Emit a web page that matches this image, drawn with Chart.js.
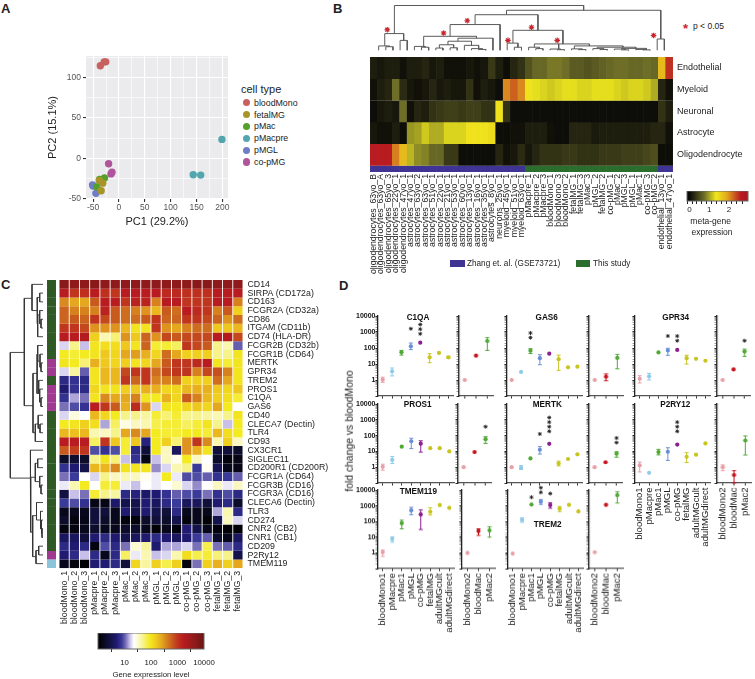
<!DOCTYPE html>
<html>
<head>
<meta charset="utf-8">
<script src="https://cdn.jsdelivr.net/npm/chart.js@4"></script>
<style>
  html, body { margin: 0; padding: 0; background: #fff; }
  #page { position: relative; width: 755px; height: 679px; overflow: hidden; font-family: "Liberation Sans", sans-serif; color: #222; }
  #page canvas { position: absolute; }
  .t { position: absolute; white-space: nowrap; line-height: 1; }
</style>
</head>
<body>
<div id="page"></div>
<script>
// ---- panel A
const cellTypes = ['bloodMono', 'fetalMG', 'pMac', 'pMacpre', 'pMGL', 'co-pMG']
const cellColors = ['#c8605f', '#a8952a', '#53a02c', '#53a6ae', '#6f7cc6', '#b0559c']
const pc1Values = [[-36, -28.5, -25.5], [-34.4, -31.3, -38], [-37.5, -28, -43], [143.5, 158, 199], [-44.6, -51, -50], [-20, -13.5, -15.5]]
const pc2Values = [[114.6, 119.4, 119.4], [-39.9, -30.4, -27], [-26, -24, -35], [-20, -20.5, 23.6], [-43, -32.5, -34], [-6.5, -17, -19]]
const pc1Ticks = [-50, -25, 0, 25, 50, 75, 100, 125, 150, 175, 200]
const pc2Ticks = [-50, -25, 0, 25, 50, 75, 100, 125]

// ---- panel B
const bColumns = ['oligodendrocytes_63yo_B', 'oligodendrocytes_63yo_A', 'oligodendrocytes_65yo_3', 'oligodendrocytes_22yo_1', 'oligodendrocytes_47yo_1',
  'astrocytes_47yo_1', 'astrocytes_63yo_2', 'astrocytes_63yo_1', 'astrocytes_51yo_1', 'astrocytes_22yo_1', 'astrocytes_21yo_1', 'astrocytes_53yo_1',
  'astrocytes_60yo_1', 'astrocytes_13yo_1', 'astrocytes_16yo_1', 'astrocytes_35yo_1', 'astrocytes_8yo_1', 'neurons_25yo_1', 'myeloid_45yo_1',
  'myeloid_51yo_1', 'myeloid_63yo_1', 'pMacpre_1', 'pMacpre_2', 'pMacpre_3', 'bloodMono_1', 'bloodMono_3', 'bloodMono_2', 'fetalMG_1', 'fetalMG_3',
  'pMac_3', 'pMGL_2', 'fetalMG_2', 'co-pMG_1', 'pMac_2', 'pMGL_3', 'pMGL_1', 'pMac_1', 'co-pMG_3', 'co-pMG_2', 'endothelial_13yo_1', 'endothelial_47yo_1']
const bRows = ['Endothelial', 'Myeloid', 'Neuronal', 'Astrocyte', 'Oligodendrocyte']
const bEndothelial = [.15, .1, .15, .15, .05, .15, .15, .2, .1, .15, .05, .05, .05, .1, .05, .1, .35, .15, .03, .2, .3, .55, .7, .7, .8, .8, .75, .6, .6, .55, .6, .65, .7, .75, .75, .7, .7, .75, .7, 1.75, 2.5]
const bMyeloid = [.05, .15, .2, .75, .25, .1, .05, .1, .2, .1, .15, .1, .1, .3, .05, .15, .1, .02, 2.05, 2.25, 2.05, 1.4, 1.3, 1.25, 1.2, 1.25, 1.3, 1.3, 1.25, 1.25, 1.3, 1.3, 1.3, 1.25, 1.2, 1.25, 1.25, 1.2, 1.05, .2, .05]
const bNeuronal = [.02, .1, .15, .1, .75, .05, .2, .15, .3, .35, .4, .4, .35, .4, .4, .3, .3, 1.4, .3, .02, .02, .02, .02, .02, .02, .02, .02, .02, .02, .02, .02, .02, .02, .02, .02, .02, .02, .02, .02, .3, .15]
const bAstrocyte = [.1, .05, .05, .15, .03, .95, 1, 1.2, 1.05, 1.05, 1.25, 1.25, 1.25, 1.4, 1.4, 1.4, 1.45, .02, .03, .05, .05, .15, .15, .15, .05, .02, .02, .2, .2, .2, .12, .15, .15, .15, .15, .15, .15, .15, .2, .2, .05]
const bOligo = [2.6, 2.6, 2.6, 2.1, 1.75, 1.1, .9, .85, .7, .7, .35, .35, .02, .02, .02, .02, .02, .2, .05, .1, .25, .1, .2, .3, .3, .3, .35, .35, .3, .3, .3, .35, .35, .35, .4, .4, .4, .45, .5, .03, .03]
const bStudy = ['Z', 'Z', 'Z', 'Z', 'Z', 'Z', 'Z', 'Z', 'Z', 'Z', 'Z', 'Z', 'Z', 'Z', 'Z', 'Z', 'Z', 'Z', 'Z', 'Z', 'Z', 'T', 'T', 'T', 'T', 'T', 'T', 'T', 'T', 'T', 'T', 'T', 'T', 'T', 'T', 'T', 'T', 'T', 'T', 'Z', 'Z']
// dendrogram merges: left leaf pos, right leaf pos, merge height, left child height, right child height
const bMerges = [
  [2.7, 29.2, 56.5, 22.3, 50.7], [1.35, 4, 22.3, 7.3, 14], [.5, 2, 7.3, 2, 6.3], [1.5, 2.5, 6.3, 2, 2], [3.5, 4.5, 14, 2, 2],
  [18.4, 40, 50.7, 45.3, 15.7], [39.5, 40.5, 15.7, 2, 2], [14, 22.8, 45.3, 33.3, 26.3], [10.5, 17.5, 33.3, 19, 2], [6.8, 14.2, 19, 6.7, 16.7],
  [5.5, 7, 6.7, 2, 5.7], [6.5, 7.5, 5.7, 2, 2], [11.6, 16.5, 16.7, 13, 2], [10.2, 13.5, 13, 8.7, 8], [9, 11, 8.7, 4.7, 5], [8.5, 9.5, 4.7, 2, 2], [10.5, 11.5, 5, 2, 2],
  [12.5, 14.5, 8, 2, 4], [13.5, 15, 4, 2, 3], [14.5, 15.5, 3, 2, 2],
  [19.3, 26.3, 26.3, 10.7, 9.7], [18.5, 20, 10.7, 2, 5.7], [19.5, 20.5, 5.7, 2, 2],
  [22.3, 25.7, 9.7, 5.7, 3.5], [25.7, 30, 9.7, 3.5, 7.3], [21.5, 23, 5.7, 2, 4], [22.5, 23.5, 4, 2, 2], [24.5, 26, 3.5, 2, 2.7], [25.5, 26.5, 2.7, 2, 2],
  [27.9, 34.7, 7.3, 3.7, 5.7], [27.5, 29, 3.7, 2, 2.8], [28.5, 29.5, 2.8, 2, 2], [31.1, 36.5, 5.7, 4, 4.3], [30.5, 32, 4, 2, 3], [31.5, 32.5, 3, 2, 2],
  [34.5, 38, 4.3, 3.5, 3], [33.5, 35, 3.5, 2, 2.5], [34.5, 35.5, 2.5, 2, 2], [36.5, 38, 3, 2, 2.5], [37.5, 38.5, 2.5, 2, 2]
]
const bSigLeaf = [1.7, 12.9, 9.6, 18.6, 21.9, 25.5, 39]
const bSigHeight = [27, 38, 23, 14, 30, 14, 20]

// ---- panel C (log10 expression)
const cColumns = ['bloodMono_1', 'bloodMono_2', 'bloodMono_3', 'pMacpre_1', 'pMacpre_2', 'pMacpre_3', 'pMac_1', 'pMac_2', 'pMac_3', 'pMGL_1', 'pMGL_2', 'pMGL_3', 'co-pMG_1', 'co-pMG_2', 'co-pMG_3', 'fetalMG_1', 'fetalMG_2', 'fetalMG_3']
const cGenes = ['CD14', 'SIRPA (CD172a)', 'CD163', 'FCGR2A (CD32a)', 'CD86', 'ITGAM (CD11b)', 'CD74 (HLA-DR)', 'FCGR2B (CD32b)', 'FCGR1B (CD64)', 'MERTK', 'GPR34', 'TREM2', 'PROS1', 'C1QA', 'GAS6', 'CD40', 'CLECA7 (Dectin)', 'TLR4', 'CD93', 'CX3CR1', 'SIGLEC11', 'CD200R1 (CD200R)', 'FCGR1A (CD64)', 'FCGR3B (CD16)', 'FCGR3A (CD16)', 'CLECA6 (Dectin)', 'TLR3', 'CD274', 'CNR2 (CB2)', 'CNR1 (CB1)', 'CD209', 'P2Ry12', 'TMEM119']
const cGroup = ['g', 'g', 'g', 'g', 'g', 'g', 'g', 'g', 'g', 'm', 'm', 'g', 'm', 'm', 'm', 'g', 'g', 'g', 'g', 'g', 'g', 'g', 'g', 'g', 'g', 'g', 'g', 'g', 'g', 'g', 'g', 'm', 'b']
const cLevels = [
  [3.7, 3.65, 3.65, 3.7, 3.65, 3.65, 3.65, 3.65, 3.65, 3.65, 3.65, 3.65, 3.65, 3.7, 3.7, 3.65, 3.65, 3.65],
  [3.2, 3, 3.05, 3.2, 3.05, 3, 3.2, 3.2, 3.2, 3.2, 3.1, 3.1, 3.05, 3.05, 3.05, 3.2, 3.2, 3.2],
  [2.55, 2.4, 2.4, 2.8, 3.2, 3.2, 3, 3.15, 3.15, 2.6, 3.2, 3.2, 3, 3, 3, 3.2, 3.2, 2.6],
  [2.75, 2.6, 2.6, 2.6, 3.15, 2.8, 2.7, 2.6, 2.5, 2.3, 2.8, 2.7, 3.2, 3.1, 3, 2.6, 2.8, 2.15],
  [2.75, 2.8, 2.75, 3, 2.9, 2.8, 2.7, 2.7, 2.8, 3, 2.75, 2.75, 3, 3, 2.9, 2.75, 2.5, 2.7],
  [3, 3, 2.9, 2.5, 2.5, 2.5, 2.3, 2, 2, 3, 2.5, 2.4, 2.6, 2.7, 2.7, 2.2, 2.2, 2.3],
  [3.2, 3.2, 3.25, 2.15, 1.6, 1.75, 2.5, 2.2, 2.75, 2.5, 2.9, 2.8, 2.9, 2.9, 2.9, 3.2, 3.25, 2.9],
  [1.25, 1.7, 1.2, 2, 2.05, 2.05, 2.2, 2, 2.75, 1.9, 1.9, 1.8, 3, 2.9, 2.8, 1.7, 1.6, 1],
  [1.95, 1.9, 1.95, 2, 2.2, 2.1, 2.4, 2.45, 2.35, 2.1, 2.7, 2.4, 2.15, 2.15, 2.15, 1.7, 1.7, 2],
  [2, 1.95, 1.75, 2.35, 2.2, 2.1, 2.15, 2, 2.1, 2.4, 2.8, 3, 3, 3.1, 3.2, 2, 1.9, 2],
  [1.25, 1.65, 1, 2, 2.3, 2.3, 2.9, 3, 3, 2.7, 2.9, 3, 3, 2.6, 2.9, 2.85, 2.6, 2],
  [.8, .85, .8, 2, 2.3, 2.3, 3, 2.75, 3, 2.6, 2.6, 2.7, 2.15, 2.15, 2.15, 2.7, 2.4, 2],
  [.7, .85, .8, 2.1, 2, 2, 2.15, 2.2, 2.35, 2.35, 2.1, 2.1, 2.3, 2.35, 2.35, 2.2, 2.1, 2.2],
  [.85, 1.15, 1.05, 2, 2.55, 2.4, 2.4, 2.6, 2, 1.95, 2.35, 2.1, 2.8, 2.6, 2.3, 2.15, 2.05, 1.9],
  [1.05, .95, .85, 3.2, 3, 2.8, 2.35, 3.1, 2.5, 1.25, 2, 1.95, 2.1, 2.2, 2.1, 2.4, 1.95, 1.35],
  [1.25, 1.45, 1.35, 2.3, 2.1, 1.95, 1.7, 1.7, 1.65, 1.9, 1.75, 1.9, 1.7, 1.7, 1.65, 1.6, 1.7, 2],
  [1.95, 2, 2.15, 2.05, 1.15, 1.8, 1.45, 1.55, 1.6, 1.85, 1.9, 1.9, 1.8, 1.9, 2, 1.7, 1.2, 1.95],
  [2.3, 2.25, 2.3, 1.6, 1.55, 1.7, 2.4, 2.55, 2.4, 1.95, 1.9, 1.9, 1.95, 1.95, 1.9, 2.3, 2.05, 1.95],
  [3.2, 3.2, 3.2, 1.8, 3, 2.2, 1.9, 2.2, .75, 1.95, 2.15, 1.75, 2.5, 3, 2.55, 1.6, 2.15, 1.55],
  [2.8, 2.95, 3, .95, .85, .95, 1.9, .8, .4, 1.95, 1.55, .6, 2.5, 2.35, 2, .4, .4, .3],
  [.3, .35, .3, 1.7, 2, 1.75, 1.2, .85, .15, 1.2, 1.55, 1.4, 1.95, 1.55, 1.35, .3, .1, .15],
  [.85, .7, .5, 2.3, 2.3, 2.55, 2, 2, 2, 1.1, 1.25, 1.6, 1.7, .9, 1.4, .55, .2, .15],
  [1.05, .9, 1.35, 1.25, 1.7, 1.55, 1.6, 1.55, 1.4, 1.3, 1.95, 1.3, .95, .95, 1, .85, .9, 1],
  [1.3, 1.6, 1.95, 1.35, 1.9, 1.9, 1.3, 1.2, 1.35, 1.3, 1.35, 1.5, 1.25, 1.1, 1.35, 1.55, 1.3, 1.55],
  [.45, 1.2, 1.05, 1.9, 1.7, 1.65, .8, .75, .65, .7, .85, 1, .95, .9, 1.05, .85, .95, .8],
  [.9, .95, .85, .15, .15, .65, .5, .5, .7, .6, .8, .9, .6, .6, .4, .7, .8, .3],
  [.2, .2, .2, .4, .4, .2, .7, .5, .7, .5, .4, .8, .2, .2, .2, 1.15, 1.6, .8],
  [.3, .1, .15, .4, .3, .2, .1, .1, .3, .4, .3, .5, .1, .2, .05, .5, 1.55, 1.25],
  [.1, .1, .2, .3, .2, .2, .3, .3, .2, .05, .2, .1, .7, .5, .2, .1, .05, .05],
  [.6, .6, .4, .7, .8, .7, .5, .6, .7, .8, .7, .6, .7, .9, 1, .3, .2, .6],
  [.8, .7, .8, .1, .95, .8, 1.05, 1.5, 1.65, .7, 1.15, 1.15, 1.25, 1.05, 1.85, 1.05, 1, .8],
  [.7, .8, 1.2, .8, .2, .8, 1.8, 1.3, 1.6, 1.2, 1.25, 1.6, 2.05, 1.85, 1.9, 1.75, 1.7, .5],
  [.2, .1, .02, .7, .7, .8, .4, 2.1, 1.65, 2.15, 1.85, 2.15, .1, 1.05, 2.15, 2.35, 2.15, 2.4]
]
// merges: top row pos, bottom row pos, merge depth, top child depth, bottom child depth
const cMerges = [
  [8.3, 22.7, 32.7, 18.7, 12.7], [2.1, 14.4, 18.7, 11, 10], [.5, 3.5, 11, 0, 6], [2, 5, 6, 3.3, 5.3], [1.5, 2.5, 3.3, 0, 0], [4, 6.5, 5.3, 3.3, 0], [3.5, 5, 3.3, 0, 2], [4.5, 5.5, 2, 0, 0],
  [10.7, 17.5, 10, 6, 7.7], [8.5, 13, 6, 5.3, 4.3], [7.5, 9.3, 5.3, 0, 3], [8.5, 10, 3, 0, 2], [9.5, 10.5, 2, 0, 0], [11.5, 13, 4.3, 0, 3.3], [12.5, 14, 3.3, 0, 2], [13.5, 14.5, 2, 0, 0],
  [16.5, 18.5, 7.7, 4.8, 0], [15.5, 17, 4.8, 0, 3], [16.5, 17.5, 3, 0, 0],
  [19.5, 25.7, 12.7, 0, 12.3], [22.6, 28.9, 12.3, 7.7, 10.3], [21, 23.1, 7.7, 5.3, 3.3], [20.5, 21.5, 5.3, 0, 0], [22.5, 23.75, 3.3, 0, 2], [23.5, 24.5, 2, 0, 0],
  [27, 31.7, 10.3, 6.5, 7], [25.5, 27.5, 6.5, 0, 2.5], [26.5, 28.5, 2.5, 0, 1.5], [27.5, 29, 1.5, 0, 1], [28.5, 29.5, 1, 0, 0], [31, 32.5, 7, 4.3, 0], [30.5, 31.5, 4.3, 0, 0]
]

// ---- panel D
const mainGroups = ['bloodMono1', 'pMacpre', 'pMac1', 'pMGL', 'co-pMG', 'fetalMG', 'adultMGcult', 'adultMGdirect']
const sideGroups = ['bloodMono2', 'bloodMac', 'pMac2']
const mainColors = ['#e8a0a8', '#8fcbe8', '#50a835', '#6a8fd8', '#8a1f8f', '#c8c420', '#c8c420', '#c8c420']
const sideColors = ['#e8a0a8', '#c8141e', '#50a835']
const c1qaVal = [1.05, 3.5, 54, 127, 215, 26, 49, 26, 1, 33, 273]
const c1qaLow = [.72, 1.8, 36, 79, null, 12, null, 22, null, null, 71]
const c1qaHigh = [1.5, 5.6, 71, 205, null, 44, null, 30, null, null, 440]
const c1qaStars = [[3, 1600, 1], [4, 770, 3]]
const gas6Val = [1, 3.2, 68, 23, 44, 20, 6.2, 6.8, 1, 1.6, 24]
const gas6Low = [null, null, 45, 9, null, 4, null, null, null, .9, 5]
const gas6High = [null, null, 90, 38, null, 36, null, null, null, 2.4, 40]
const gas6Stars = [[2, 444, 2]]
const gpr34Val = [1.2, 1.7, 53, 70, 76, 23, 21, 16, 1, 4.6, 60]
const gpr34Low = [.65, 1, null, 35, null, 10, null, null, null, null, 30]
const gpr34High = [1.85, 2.6, null, 96, null, 35, null, null, null, null, 85]
const gpr34Stars = [[3, 560, 1], [4, 285, 2], [10, 285, 1]]
const pros1Val = [1.05, 2.9, 20, 44, 31, 16, 16, 10, 1, 9, 59]
const pros1Low = [.65, 1.7, null, 15, 9, null, null, null, null, null, 32]
const pros1High = [1.55, 4.8, null, 68, 47, null, null, null, null, null, 85]
const pros1Stars = [[10, 365, 1]]
const mertkVal = [1, .9, 3.6, 12.7, 30, 1.7, 3.3, 6.5, 1, 2.05, 7.2]
const mertkLow = [null, .72, null, 6.8, null, 1.2, null, null, null, null, 4.3]
const mertkHigh = [null, 1.25, null, 20, null, 2.4, null, null, null, null, 9.5]
const mertkStars = [[3, 127, 1], [4, 187, 4], [10, 36, 2]]
const p2ry12Val = [1.3, .44, 9.1, 9.5, 27, 4.6, 6.2, 32, 1, .32, 49]
const p2ry12Low = [.5, null, 6, 2.7, null, 2, null, null, .6, .1, 5.9]
const p2ry12High = [2.1, null, 13.5, 17, null, 8.2, null, null, 1.4, .6, 95]
const p2ry12Stars = [[4, 187, 3]]
const tmem119Val = [1.1, 7.6, 77, 510, 280, 420, 1100, 740, 1, 24, 27]
const tmem119Low = [.6, 4.8, 34, 270, 31, 260, null, null, null, 13, 10]
const tmem119High = [1.5, 10.5, 120, 800, 540, 740, null, null, null, 34, 46]
const tmem119Stars = []
const trem2Val = [.9, 125, 1200, 1800, 1100, 650, 1150, 440, 1.1, 1150, 4700]
const trem2Low = [null, 90, null, 1230, 700, 430, null, null, null, null, 1500]
const trem2High = [null, 170, null, 2500, 1550, 900, null, null, null, null, 7700]
const trem2Stars = [[2, 3500, 1], [3, 7200, 2], [4, 6000, 1]]

const bStops = [[0, '#0a0a08'], [.75, '#6e6e28'], [1.35, '#f0e81c'], [1.9, '#e2a81e'], [2.2, '#cf6a1e'], [2.6, '#b81c20'], [2.84, '#b01820']]
const cStops = [[0, '#000000'], [.4, '#10103a'], [.7, '#201a70'], [.9, '#3a3a9a'], [1.05, '#7a70b8'], [1.2, '#c8c0e8'], [1.35, '#ffffff'], [1.65, '#f8f5a0'], [1.95, '#f4ea20'], [2.15, '#f0d01e'], [2.35, '#e8b01e'], [2.55, '#d98a1e'], [2.8, '#c85a1e'], [3, '#c0351e'], [3.2, '#b81c20'], [3.7, '#8a1a1a'], [4, '#6a1414']]

Chart.defaults.animation = false
Chart.defaults.responsive = false
Chart.defaults.devicePixelRatio = 1
Chart.defaults.font.family = '"Liberation Sans", sans-serif'
Chart.defaults.plugins.legend.display = false
Chart.defaults.plugins.tooltip.enabled = false

const page = document.getElementById('page')

function canvasAt(left, top, width, height) {
  const c = document.createElement('canvas')
  c.width = width
  c.height = height
  c.style.left = left + 'px'
  c.style.top = top + 'px'
  c.style.width = width + 'px'
  c.style.height = height + 'px'
  page.appendChild(c)
  return c.getContext('2d')
}

function text(str, x, y, size, opts = {}) {
  const d = document.createElement('div')
  d.className = 't'
  d.textContent = str
  d.style.left = x + 'px'
  d.style.top = y + 'px'
  d.style.fontSize = size + 'px'
  if (opts.bold) d.style.fontWeight = 'bold'
  if (opts.color) d.style.color = opts.color
  d.style.transform = (opts.anchor === 'middle' ? 'translate(-50%,-50%)' : 'translateY(-50%)') + (opts.rotate ? ' rotate(' + opts.rotate + 'deg)' : '')
  page.appendChild(d)
  return d
}

function swatch(x, y, w, h, color, round) {
  const d = document.createElement('div')
  d.style.cssText = `position:absolute;left:${x}px;top:${y}px;width:${w}px;height:${h}px;background:${color};` + (round ? 'border-radius:50%;' : '')
  page.appendChild(d)
}

function hexRgb(h) {
  return [1, 3, 5].map(i => parseInt(h.slice(i, i + 2), 16))
}

function ramp(stops, v) {
  if (v <= stops[0][0]) return stops[0][1]
  for (let i = 1; i < stops.length; i++) {
    if (v <= stops[i][0]) {
      const f = (v - stops[i - 1][0]) / (stops[i][0] - stops[i - 1][0])
      const a = hexRgb(stops[i - 1][1])
      const b = hexRgb(stops[i][1])
      return `rgb(${a.map((c, k) => Math.round(c + (b[k] - c) * f)).join(',')})`
    }
  }
  return stops[stops.length - 1][1]
}

// keeps the plot box exactly where the layout wants it
function fixX(h) {
  return s => { s.height = h; s.paddingLeft = 0; s.paddingRight = 0 }
}
function fixY(w) {
  return s => { s.width = w; s.paddingTop = 0; s.paddingBottom = 0 }
}

function stackedCells(ctx, columns, rowNames, rowData, o) {
  const datasets = rowData.map(r => ({
    data: r.size,
    backgroundColor: r.colors,
    borderColor: r.colors,
    borderWidth: o.seal ? .4 : 0,
    barPercentage: o.barPct || 1,
    categoryPercentage: 1,
    stack: 'cells'
  }))
  const total = rowData.reduce((sum, r) => sum + r.size[0], 0)
  return new Chart(ctx, {
    type: 'bar',
    data: { labels: columns, datasets },
    options: {
      layout: { padding: 0 },
      scales: {
        x: {
          stacked: true,
          offset: true,
          grid: { display: false, drawTicks: false },
          border: { display: false },
          afterFit: fixX(o.labelH),
          ticks: {
            display: o.labelH > 0,
            autoSkip: false,
            minRotation: 90,
            maxRotation: 90,
            padding: o.xPad,
            color: '#222',
            font: { size: o.xSize }
          }
        },
        y: {
          stacked: true,
          reverse: true,
          min: 0,
          max: total,
          position: 'right',
          grid: { display: false, drawTicks: false },
          border: { display: false },
          afterFit: fixY(o.labelW),
          afterBuildTicks: s => { s.ticks = rowNames.map((n, i) => ({ value: i + .5 })) },
          ticks: {
            display: o.labelW > 0,
            autoSkip: false,
            padding: o.yPad,
            color: '#222',
            font: { size: o.ySize },
            callback: v => rowNames[Math.floor(v)]
          }
        }
      }
    }
  })
}

function dendroPoints(merges) {
  const pts = []
  merges.forEach(m => {
    pts.push([m[0], m[3]], [m[0], m[2]], [m[1], m[2]], [m[1], m[4]], [NaN, NaN])
  })
  return pts
}

function gradientBar(stops, toValue) {
  return {
    id: 'gradientBar',
    beforeDatasetsDraw(chart) {
      const { ctx, chartArea: a, scales: { x } } = chart
      const g = ctx.createLinearGradient(a.left, 0, a.right, 0)
      const span = a.right - a.left
      stops.forEach(s => {
        const p = (x.getPixelForValue(toValue(s[0])) - a.left) / span
        if (p >= 0 && p <= 1) g.addColorStop(p, s[1])
      })
      ctx.fillStyle = g
      ctx.fillRect(a.left, a.top, span, a.bottom - a.top)
      ctx.strokeStyle = '#666'
      ctx.lineWidth = 1
      ctx.strokeRect(a.left, a.top, span, a.bottom - a.top)
    }
  }
}

// ---------- A
function drawPanelA() {
  const ctx = canvasAt(40, 52, 192, 177)
  const isMajor = v => v % 50 === 0
  const axisGrid = {
    color: '#fff',
    lineWidth: c => (isMajor(c.tick.value) ? 1.1 : .6),
    tickColor: c => (isMajor(c.tick.value) ? '#333' : 'rgba(0,0,0,0)'),
    tickLength: 3
  }
  new Chart(ctx, {
    type: 'scatter',
    data: {
      datasets: cellTypes.map((name, i) => ({
        label: name,
        data: pc1Values[i].map((x, k) => ({ x, y: pc2Values[i][k] })),
        backgroundColor: cellColors[i],
        borderWidth: 0,
        pointRadius: 3.7
      }))
    },
    options: {
      layout: { padding: 0 },
      scales: {
        x: {
          type: 'linear', min: -63.7, max: 210.7,
          afterFit: fixX(30),
          afterBuildTicks: s => { s.ticks = pc1Ticks.map(value => ({ value })) },
          border: { display: false },
          grid: axisGrid,
          ticks: { autoSkip: false, minRotation: 0, maxRotation: 0, padding: 1, color: '#555', font: { size: 8.5 }, callback: v => (isMajor(v) ? String(v) : '') },
          title: { display: true, text: 'PC1 (29.2%)', color: '#222', font: { size: 11 }, padding: 0 }
        },
        y: {
          type: 'linear', min: -50, max: 126.6,
          afterFit: fixY(46),
          afterBuildTicks: s => { s.ticks = pc2Ticks.map(value => ({ value })) },
          border: { display: false },
          grid: axisGrid,
          ticks: { autoSkip: false, padding: 2, color: '#555', font: { size: 8.5 }, callback: v => (isMajor(v) ? String(v) : '') },
          title: { display: true, text: 'PC2 (15.1%)', color: '#222', font: { size: 11 }, padding: { top: 6, bottom: 0 } }
        }
      }
    },
    plugins: [{
      id: 'panelBg',
      beforeDraw(chart) {
        const a = chart.chartArea
        chart.ctx.fillStyle = '#ebebed'
        chart.ctx.fillRect(a.left, a.top, a.right - a.left, a.bottom - a.top)
      }
    }]
  })
  text('cell type', 241, 89, 11)
  cellTypes.forEach((name, i) => {
    const y = 102.7 + i * 11.85
    swatch(243.3, y - 3.6, 7.2, 7.2, cellColors[i], true)
    text(name, 254, y, 8.8)
  })
}

// ---------- B
function drawPanelB() {
  const rows = [bEndothelial, bMyeloid, bNeuronal, bAstrocyte, bOligo].map(r => ({
    size: r.map(() => 1),
    colors: r.map(v => ramp(bStops, v))
  }))
  rows.push({ size: bStudy.map(() => .3), colors: bStudy.map(s => (s === 'Z' ? '#3f3393' : '#2b6d2c')) })
  const ctx = canvasAt(370, 57, 385, 225)
  stackedCells(ctx, bColumns, bRows, rows, { labelH: 110, labelW: 82, xSize: 8.7, ySize: 9, xPad: 2, yPad: 4 , seal: true })

  const sctx = canvasAt(370, 0, 303, 57)
  new Chart(sctx, {
    type: 'scatter',
    data: {
      datasets: [{
        data: dendroPoints(bMerges).map(p => ({ x: p[0], y: p[1] })),
        showLine: true, spanGaps: false, pointRadius: 0, borderColor: '#5a5a5a', borderWidth: 1, clip: false
      }, {
        data: bSigLeaf.map((x, i) => ({ x, y: bSigHeight[i] })),
        pointStyle: 'star', pointRadius: 2.8, borderColor: '#c9252d', borderWidth: 1.1, clip: false
      }]
    },
    options: {
      layout: { padding: 0 },
      scales: {
        x: { type: 'linear', display: false, min: 0, max: 41 },
        y: { type: 'linear', display: false, min: 0, max: 57 }
      }
    }
  })

  text('*', 683, 28, 13, { bold: true, color: '#c9252d' })
  text('p < 0.05', 693, 26, 8.5)
  swatch(450.3, 260, 14.7, 7, '#3f3393')
  text('Zhang et. al. (GSE73721)', 467, 263.5, 8.2)
  swatch(576, 260, 14, 7, '#2b6d2c')
  text('This study', 593, 263.5, 8.2)

  const bar = canvasAt(680, 191, 75, 30)
  new Chart(bar, {
    type: 'bar',
    data: { datasets: [] },
    options: {
      layout: { padding: { left: 7, right: 7 } },
      scales: {
        x: {
          type: 'linear', min: 0, max: 2.84,
          afterFit: fixX(20),
          border: { display: false },
          grid: { drawOnChartArea: false, tickColor: '#222', tickLength: 3 },
          ticks: { stepSize: .25, autoSkip: false, maxRotation: 0, padding: 1, color: '#222', font: { size: 8 }, callback: v => (Number.isInteger(v) ? v : '') }
        },
        y: { display: false }
      }
    },
    plugins: [gradientBar(bStops, v => v)]
  })
  text('meta-gene', 710.7, 221, 8.5, { anchor: 'middle' })
  text('expression', 712, 232, 8.5, { anchor: 'middle' })
}

// ---------- C
function drawPanelC() {
  const rows = cLevels.map(r => ({ size: r.map(() => 1), colors: r.map(v => ramp(cStops, v)) }))
  const ctx = canvasAt(59, 280, 296, 350)
  stackedCells(ctx, cColumns, cGenes, rows, { labelH: 61.7, labelW: 112, xSize: 8.8, ySize: 8.8, xPad: 2.5, yPad: 4.5, barPct: .91 })

  const groupColor = { g: '#2f5a25', m: '#a03a90', b: '#8cc4dc' }
  const strip = canvasAt(46.5, 280, 9.5, 288.3)
  stackedCells(strip, ['group'], cGenes, cGroup.map(g => ({ size: [1], colors: [groupColor[g]] })), { labelH: 0, labelW: 0, seal: true })

  const tree = canvasAt(9, 280, 34, 288.3)
  new Chart(tree, {
    type: 'scatter',
    data: {
      datasets: [{
        data: dendroPoints(cMerges).map(p => ({ x: p[1], y: p[0] })),
        showLine: true, spanGaps: false, pointRadius: 0, borderColor: '#333', borderWidth: .9, clip: false
      }]
    },
    options: {
      layout: { padding: 0 },
      scales: {
        x: { type: 'linear', display: false, reverse: true, min: 0, max: 34 },
        y: { type: 'linear', display: false, reverse: true, min: 0, max: 33 }
      }
    }
  })

  const bar = canvasAt(80, 633, 150, 47)
  new Chart(bar, {
    type: 'bar',
    data: { datasets: [] },
    options: {
      layout: { padding: { left: 18, right: 26 } },
      scales: {
        x: {
          type: 'logarithmic', min: 1, max: 10000,
          afterFit: fixX(31),
          afterBuildTicks: s => { s.ticks = [10, 100, 1000, 10000].map(value => ({ value })) },
          border: { display: false },
          grid: { drawOnChartArea: false, tickColor: '#333', tickLength: 3 },
          ticks: { autoSkip: false, maxRotation: 0, padding: 6, color: '#222', font: { size: 7.8 }, callback: v => String(v) },
          title: { display: true, text: 'Gene expression level', color: '#222', font: { size: 7.8 }, padding: 0 }
        },
        y: { display: false }
      }
    },
    plugins: [gradientBar(cStops, v => Math.pow(10, v))]
  })
}

// ---------- D
function geneChart(cats, colors, vals, lows, highs, stars, box, labelY, labelX) {
  const yw = labelY ? 24 : 5
  const xh = labelX ? 70 : 6
  const topPad = 10
  const w = box.right - box.x
  const h = box.bottom - box.top
  const ctx = canvasAt(box.x - yw, box.top - topPad, w + yw, h + topPad + xh)
  const starPoints = []
  stars.forEach(s => {
    for (let i = 0; i < s[2]; i++) starPoints.push({ x: cats[s[0]], y: s[1] * Math.pow(10, .29 * i) })
  })
  new Chart(ctx, {
    type: 'line',
    data: {
      labels: cats,
      datasets: [{
        data: vals,
        showLine: false,
        pointRadius: 2.1,
        pointBackgroundColor: colors,
        pointBorderWidth: 0,
        clip: false
      }, {
        data: starPoints,
        showLine: false,
        pointStyle: 'star',
        pointRadius: 2,
        pointBorderColor: '#222',
        pointBorderWidth: .9,
        clip: false
      }]
    },
    options: {
      layout: { padding: { top: topPad } },
      scales: {
        x: {
          type: 'category',
          offset: true,
          afterFit: fixX(xh),
          border: { color: '#555', width: 1.2 },
          grid: { offset: false, drawOnChartArea: false, tickColor: '#333', tickLength: 2.5 },
          ticks: {
            display: labelX,
            autoSkip: false,
            minRotation: 90,
            maxRotation: 90,
            padding: 2,
            color: '#222',
            font: { size: 9.5 }
          }
        },
        y: {
          type: 'logarithmic',
          min: .1,
          max: 10000,
          afterFit: fixY(yw),
          border: { color: '#222', width: 1.3 },
          grid: {
            drawOnChartArea: false,
            tickColor: '#222',
            tickLength: 2.5,
            tickWidth: c => (Math.abs(Math.log10(c.tick.value) % 1) < 1e-6 ? 1.2 : .45)
          },
          ticks: {
            display: labelY,
            autoSkip: false,
            padding: 0,
            color: '#111',
            font: { size: 7, weight: 'bold' },
            callback: v => (v >= 1 && Math.abs(Math.log10(v) % 1) < 1e-6 ? String(v) : '')
          }
        }
      }
    },
    plugins: [{
      id: 'errorBars',
      beforeDatasetsDraw(chart) {
        const { ctx: g, scales: { x, y } } = chart
        vals.forEach((v, i) => {
          if (lows[i] == null) return
          const px = x.getPixelForValue(i)
          const y1 = y.getPixelForValue(lows[i])
          const y2 = y.getPixelForValue(highs[i])
          g.strokeStyle = colors[i]
          g.lineWidth = 1
          g.beginPath()
          g.moveTo(px, y1); g.lineTo(px, y2)
          g.moveTo(px - 2, y1); g.lineTo(px + 2, y1)
          g.moveTo(px - 2, y2); g.lineTo(px + 2, y2)
          g.stroke()
        })
      }
    }]
  })
}

function genePanel(name, vals, lows, highs, stars, place) {
  const main = { x: place.x, right: place.x + 80, top: place.top, bottom: place.bottom }
  const side = { x: place.sx, right: place.sx + 37.5, top: place.top, bottom: place.bottom }
  const mainStars = stars.filter(s => s[0] < 8)
  const sideStars = stars.filter(s => s[0] >= 8).map(s => [s[0] - 8, s[1], s[2]])
  geneChart(mainGroups, mainColors, vals.slice(0, 8), lows.slice(0, 8), highs.slice(0, 8), mainStars, main, place.labelY, place.labelX)
  geneChart(sideGroups, sideColors, vals.slice(8), lows.slice(8), highs.slice(8), sideStars, side, false, place.labelX)
  text(name, place.tx, place.ty, 8.2, { bold: true, anchor: 'middle', color: '#111' })
}

function drawPanelD() {
  genePanel('C1QA', c1qaVal, c1qaLow, c1qaHigh, c1qaStars, { x: 378, sx: 459.3, top: 316, bottom: 396, labelY: true, labelX: false, tx: 418, ty: 318 })
  genePanel('GAS6', gas6Val, gas6Low, gas6High, gas6Stars, { x: 507, sx: 589.3, top: 316, bottom: 396, labelY: false, labelX: false, tx: 546.7, ty: 318 })
  genePanel('GPR34', gpr34Val, gpr34Low, gpr34High, gpr34Stars, { x: 635.3, sx: 717, top: 316, bottom: 396, labelY: false, labelX: false, tx: 675.7, ty: 318 })
  genePanel('PROS1', pros1Val, pros1Low, pros1High, pros1Stars, { x: 378, sx: 458.3, top: 403.7, bottom: 483.3, labelY: true, labelX: false, tx: 417.7, ty: 405.3 })
  genePanel('MERTK', mertkVal, mertkLow, mertkHigh, mertkStars, { x: 507, sx: 589.3, top: 403.7, bottom: 483.3, labelY: false, labelX: false, tx: 547.3, ty: 405.3 })
  genePanel('P2RY12', p2ry12Val, p2ry12Low, p2ry12High, p2ry12Stars, { x: 635.3, sx: 717, top: 403.7, bottom: 483.3, labelY: false, labelX: true, tx: 675.3, ty: 405.3 })
  genePanel('TMEM119', tmem119Val, tmem119Low, tmem119High, tmem119Stars, { x: 378, sx: 461.7, top: 490.3, bottom: 569.3, labelY: true, labelX: true, tx: 418.3, ty: 491.7 })
  genePanel('TREM2', trem2Val, trem2Low, trem2High, trem2Stars, { x: 507.7, sx: 589.3, top: 490.3, bottom: 569.3, labelY: false, labelX: true, tx: 547.7, ty: 525 })
  text('fold change vs bloodMono', 350, 431, 10.4, { anchor: 'middle', rotate: -90 })
}

text('A', 1, 8, 13, { bold: true })
text('B', 333, 8, 13, { bold: true })
text('C', 1, 284, 13, { bold: true })
text('D', 339, 285, 13, { bold: true })

drawPanelA()
drawPanelB()
drawPanelC()
drawPanelD()
</script>
</body>
</html>
